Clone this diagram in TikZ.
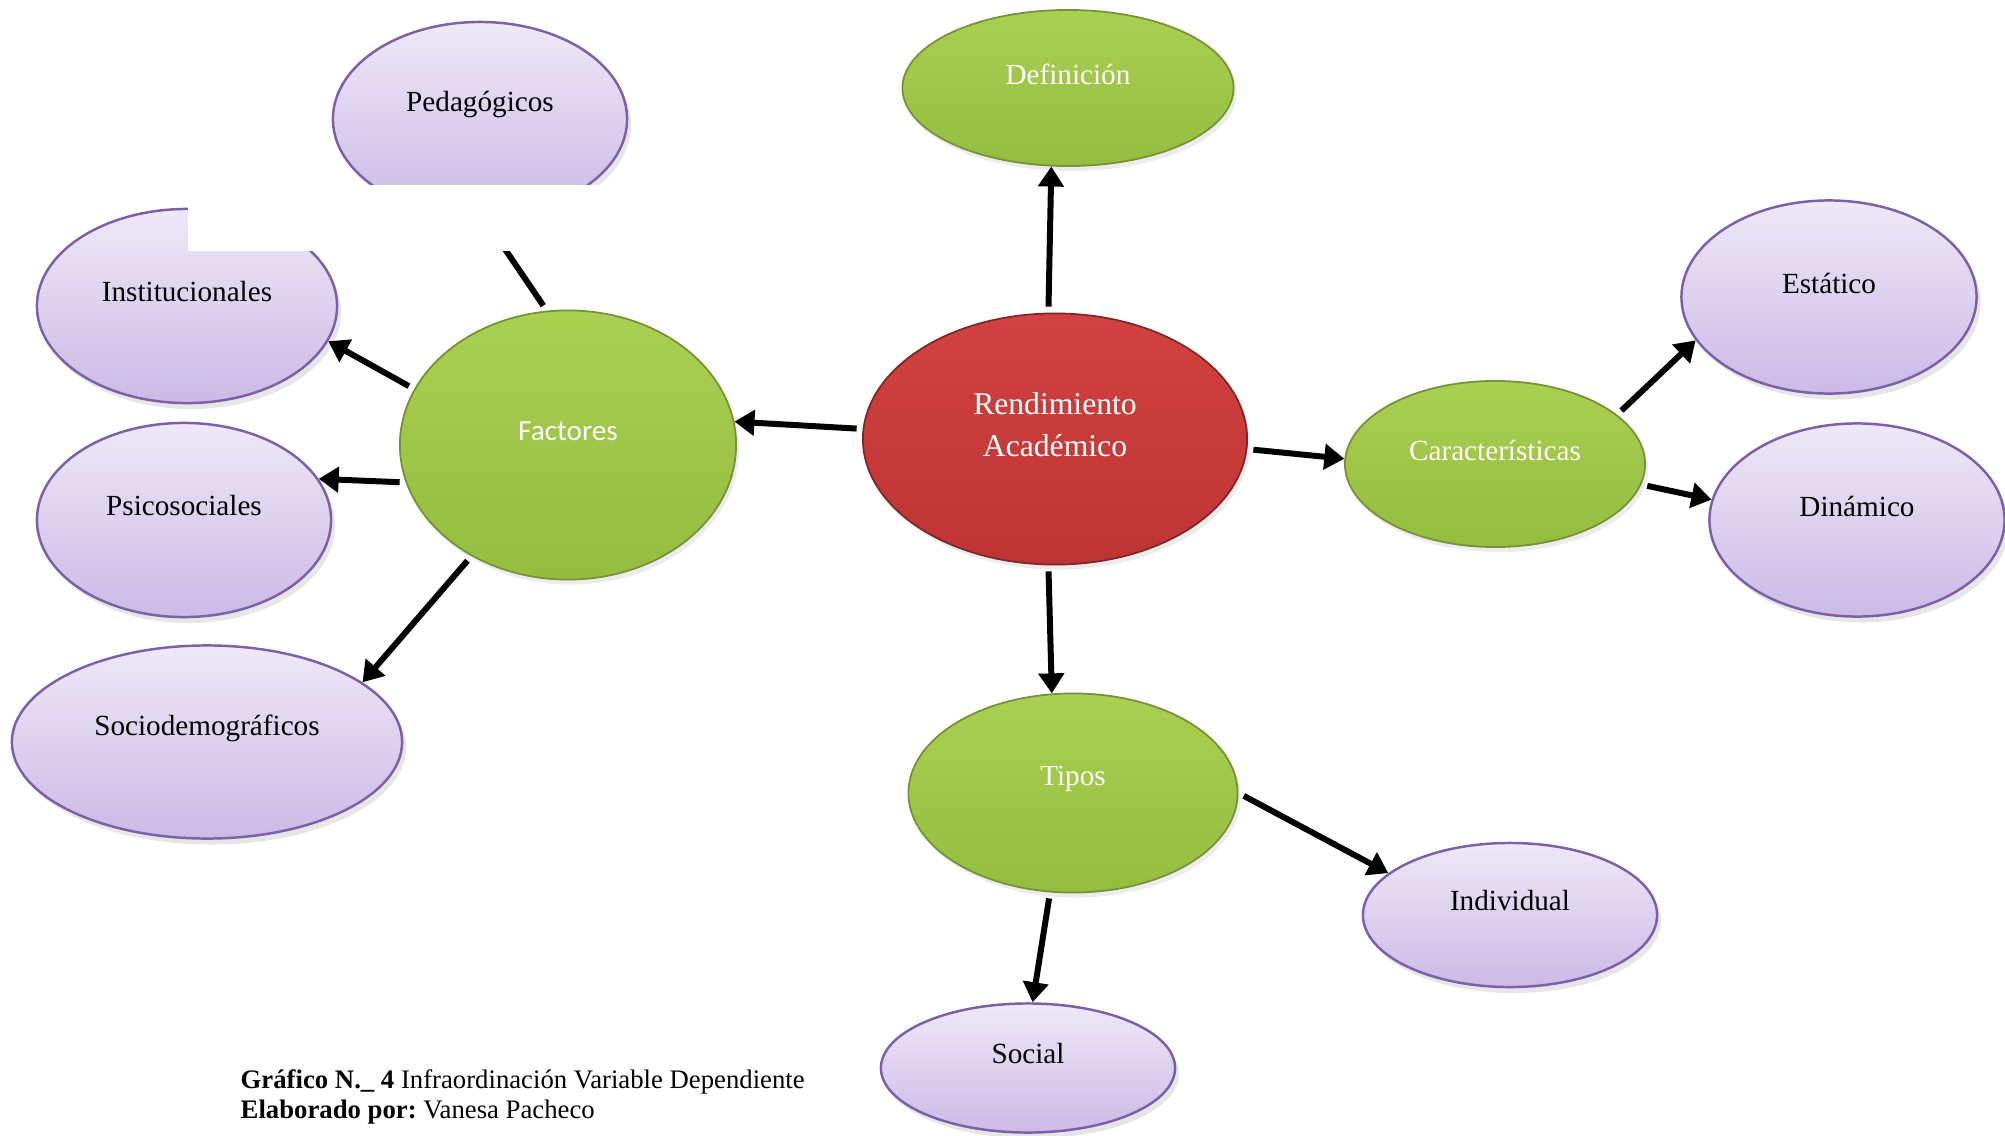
\documentclass[tikz,border=0pt]{standalone}
\usepackage{fontspec}
\setmainfont{Liberation Serif}
\newfontfamily\calibri{Carlito}
\usetikzlibrary{shapes.geometric, arrows.meta, shadows}

\definecolor{leaftop}{RGB}{238,232,247}
\definecolor{leafbot}{RGB}{203,186,230}
\definecolor{leafline}{RGB}{125,95,168}
\definecolor{greentop}{RGB}{170,208,82}
\definecolor{greenbot}{RGB}{148,188,62}
\definecolor{greenline}{RGB}{118,145,55}
\definecolor{redtop}{RGB}{210,66,66}
\definecolor{redbot}{RGB}{190,52,52}
\definecolor{redline}{RGB}{125,40,40}

\begin{document}
\frenchspacing
\begin{tikzpicture}[x=0.01cm, y=-0.01cm,
    blob/.style={ellipse, inner sep=0pt},
    txt/.style={inner sep=0pt, yshift=1.4mm, font=\fontsize{8.3}{10}\selectfont},
    core/.style={blob, draw=redline, line width=0.5pt, top color=redtop, bottom color=redbot,
        drop shadow={opacity=0.15, shadow xshift=0.3mm, shadow yshift=-0.5mm},
        label={[txt, text=white, align=center, font=\fontsize{9}{12}\selectfont]center:#1}},
    branch/.style={blob, draw=greenline, line width=0.5pt, top color=greentop, bottom color=greenbot,
        drop shadow={opacity=0.15, shadow xshift=0.3mm, shadow yshift=-0.5mm},
        label={[txt, text=white]center:#1}},
    leaf/.style={blob, draw=leafline, line width=0.7pt, top color=leaftop, bottom color=leafbot,
        drop shadow={opacity=0.2, shadow xshift=0.4mm, shadow yshift=-0.6mm},
        label={[txt]center:#1}},
    link/.style={line width=1.7pt, -{Triangle[length=2mm, width=2.5mm]}, shorten <=0.6mm}]
    \useasboundingbox (0,0) rectangle (2005,1136);

    % centre
    \node (rend) [core={Rendimiento\\Académico}, minimum width=3.84cm, minimum height=2.51cm] at (1055,439) {};

    % second level
    \node (def) [branch=Definición, minimum width=3.31cm, minimum height=1.56cm] at (1068,88) {};
    \node (fact) [branch={\calibri Factores}, minimum width=3.36cm, minimum height=2.69cm] at (568,445) {};
    \node (car) [branch=Características, minimum width=3.00cm, minimum height=1.66cm] at (1495,464) {};
    \node (tipos) [branch=Tipos, minimum width=3.29cm, minimum height=1.99cm] at (1073,793) {};

    % leaves
    \node (ped) [leaf=Pedagógicos, minimum width=2.94cm, minimum height=1.94cm] at (480,119) {};
    \node (inst) [leaf=Institucionales, minimum width=3.00cm, minimum height=1.94cm] at (187,306) {};
    \node (psico) [leaf=Psicosociales, minimum width=2.94cm, minimum height=1.94cm] at (184,520) {};
    \node (socio) [leaf=Sociodemográficos, minimum width=3.90cm, minimum height=1.93cm] at (207,742) {};
    \node (est) [leaf=Estático, minimum width=2.95cm, minimum height=1.93cm] at (1829,297) {};
    \node (din) [leaf=Dinámico, minimum width=2.95cm, minimum height=1.93cm] at (1857,520) {};
    \node (ind) [leaf=Individual, minimum width=2.94cm, minimum height=1.44cm] at (1510,915) {};
    \node (soc) [leaf=Social, minimum width=2.94cm, minimum height=1.29cm] at (1028,1068) {};

    \draw[link] (rend.93) -- (def.258);
    \draw[link] (rend.177) -- (fact.8);
    \draw[link] (rend.-3) -- (car.178);
    \draw[link] (rend.267) -- (tipos.102);

    \draw[link] (fact.99) -- (ped.-88);
    \draw[link] (fact.160) -- (inst.-14);
    \draw[link] (fact.193) -- (psico.17);
    \draw[link] (fact.229) -- (socio.21);

    \draw[link] (car.22) -- (est.198);
    \draw[link] (car.-8) -- (din.172);

    \draw[link] (tipos.0) -- (ind.161);
    \draw[link] (tipos.257) -- (soc.86);

    % white patch over the upper left
    \fill[white] (188,185) rectangle (640,251);

    \node (caption) [anchor=west, align=left, inner sep=0pt, font=\fontsize{7.6}{8.7}\selectfont] at (240,1097)
        {\textbf{Gráfico N.\_ 4} Infraordinación Variable Dependiente\\\textbf{Elaborado por:} Vanesa Pacheco};
\end{tikzpicture}
\end{document}
